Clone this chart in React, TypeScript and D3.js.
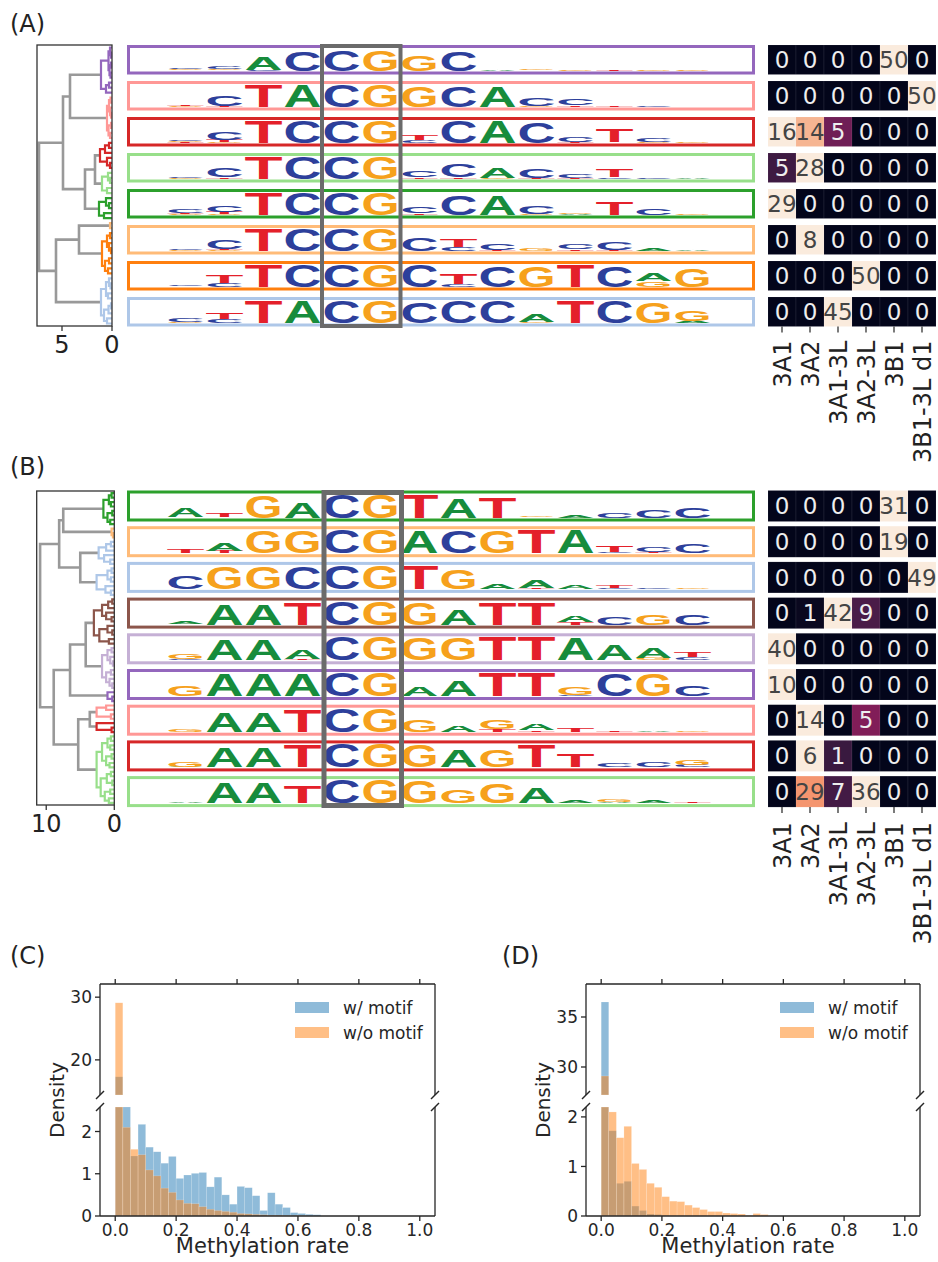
import React from 'react'
import * as d3 from 'd3'

const FONT = "'DejaVu Sans', sans-serif"
const LOGO_FONT = "'Liberation Sans', Arial, sans-serif"

// ---- heatmap data ----
const enzymes = ['3A1', '3A2', '3A1-3L', '3A2-3L', '3B1', '3B1-3L d1']
const countsA = [
  [0, 0, 0, 0, 50, 0],
  [0, 0, 0, 0, 0, 50],
  [16, 14, 5, 0, 0, 0],
  [5, 28, 0, 0, 0, 0],
  [29, 0, 0, 0, 0, 0],
  [0, 8, 0, 0, 0, 0],
  [0, 0, 0, 50, 0, 0],
  [0, 0, 45, 0, 0, 0],
]
const countsB = [
  [0, 0, 0, 0, 31, 0],
  [0, 0, 0, 0, 19, 0],
  [0, 0, 0, 0, 0, 49],
  [0, 1, 42, 9, 0, 0],
  [40, 0, 0, 0, 0, 0],
  [10, 0, 0, 0, 0, 0],
  [0, 14, 0, 5, 0, 0],
  [0, 6, 1, 0, 0, 0],
  [0, 29, 7, 36, 0, 0],
]

// cluster colours (row order)
const colorsA = ['#9467bd', '#ff9896', '#d62728', '#98df8a', '#2ca02c', '#ffbb78', '#ff7f0e', '#aec7e8']
const colorsB = ['#2ca02c', '#ffbb78', '#aec7e8', '#8c564b', '#c5b0d5', '#9467bd', '#ff9896', '#d62728', '#98df8a']

// ---- sequence logos: 14 positions, "letter+height" stacked bottom->top ----
const logoA = [
  'G.03 C.03 T.02|A.02 G.03 C.08|C.03 A.6|C.87|C.93|G.93|G.7|C.85|A.06|T.02 G.04|G.05|T.03|G.04|G.03',
  'G.03 T.04|T.04 C.45|T.95|A.95|C.95|G.95|G.93|C.93|A.93|G.04 C.35|T.06 C.3|T.05|C.04|A.02',
  'G.04 T.03 C.06|G.04 T.08 C.32|T.95|C.95|C.95|G.95|C.1 T.22|C.95|A.95|C.9|T.03 C.2|A.02 T.55|G.03 C.15|G.05',
  'G.03 C.06|T.05 C.38|T.95|C.95|C.95|G.95|T.05 C.3|T.05 C.6|G.03 A.45|T.04 C.4|T.03 C.18|C.05 T.32|C.06|A.05',
  'G.03 T.03 C.14|G.03 T.08 C.3|T.95|C.95|C.95|G.95|T.06 C.3|C.85|A.85|G.03 C.35|A.04 G.06|T.6|C.3|G.05',
  'G.03 C.03|G.03 T.04 C.4|T.95|C.95|C.95|G.95|C.6|C.15 T.33|T.03 C.28|G.08|T.06 C.25|T.03 C.35|A.1|A.05',
  'C.03 G.02|C.15 T.35|T.95|C.95|C.95|G.95|C.95|C.1 T.45|C.92|G.92|T.95|C.92|G.22 A.32|G.82',
  'G.04 C.14|C.15 T.28|T.95|A.95|C.95|G.95|C.92|C.95|C.95|G.03 A.35|T.95|C.95|G.9|A.08 G.45',
]
const logoB = [
  'G.02 A.38|A.02 T.18|G.9|A.62|C.95|G.95|T.95|A.82|T.85|G.03 T.02|A.08|C.22|C.32|C.45',
  'A.02 T.15|T.08 A.3|G.9|G.9|C.95|G.95|A.92|C.9|G.9|T.95|A.95|C.06 T.28|T.03 C.22|C.4',
  'C.55|G.9|G.9|C.9|C.95|G.95|T.95|G.82|A.2|T.05 A.32|A.14|C.03 T.1|C.05|G.03',
  'C.02 A.12|A.88|A.88|T.92|C.95|G.95|G.93|A.65|T.93|T.93|T.1 A.28|C.32|G.45|C.42',
  'C.05 G.2|A.88|A.88|T.05 A.35|C.95|G.95|G.92|G.9|T.95|T.95|A.9|A.62|G.1 A.45|C.12 T.22',
  'G.45|A.9|A.9|A.9|C.95|G.95|A.35|A.65|T.95|T.95|C.05 G.3|C.9|G.9|C.45',
  'G.1|A.8|A.8|T.9|C.95|G.95|G.5|A.28|T.1 G.4|T.05 A.25|T.15|T.03|A.03|G.03',
  'A.03 G.2|A.82|A.82|T.92|C.95|G.95|G.9|A.72|G.7|T.9|T.55|C.15|C.22|C.08 G.2',
  'A.05|A.88|A.88|T.72|C.95|G.95|G.9|G.55|G.8|A.65|A.1|A.05 G.08|A.08|T.03',
]
const letterColor: Record<string, string> = { A: '#178c3c', C: '#2d3f9b', G: '#f6a11c', T: '#e4202a' }

// ---- dendrograms ----
type Tree = { h: number; k: [Tree, Tree]; c?: number } | null
const o: Tree = null
const n = (h: number, a: Tree, b: Tree): Tree => ({ h, k: [a, b] })
const cl = (c: number, t: Tree): Tree => ({ ...(t as any), c })

const dendA = n(7.3,
  n(4.9,
    n(4.2,
      cl(0, n(1.1, n(0.35, n(0.2, o, n(0.1, o, o)), n(0.25, n(0.1, o, o), n(0.15, o, o))), n(0.6, n(0.3, o, o), o))),
      cl(1, n(0.5, n(0.3, n(0.15, o, o), n(0.2, o, n(0.1, o, o))), n(0.35, n(0.1, o, o), n(0.2, o, o))))),
    n(2.7,
      n(1.7,
        cl(2, n(1.2, n(0.7, n(0.3, o, o), o), n(0.5, o, n(0.2, o, o)))),
        cl(3, n(1.0, n(0.4, o, n(0.2, o, o)), n(0.5, o, o)))),
      cl(4, n(1.3, n(0.6, o, n(0.3, o, o)), n(0.8, o, o))))),
  n(5.6,
    n(3.3,
      cl(5, n(0.2, o, o)),
      cl(6, n(1.0, n(0.5, n(0.2, o, o), n(0.3, o, n(0.1, o, o))), n(0.7, n(0.3, o, o), n(0.4, o, o))))),
    cl(7, n(1.1, n(0.6, n(0.3, o, n(0.15, o, o)), n(0.4, o, o)), n(0.8, n(0.35, n(0.1, o, o), o), n(0.5, o, o))))))

const dendB = n(10.9,
  n(8.1,
    n(7.5,
      cl(0, n(1.6, n(0.8, n(0.4, o, o), n(0.5, o, o)), n(1.0, n(0.3, o, o), n(0.6, o, o)))),
      cl(1, n(0.4, o, n(0.2, o, o)))),
    n(5.0,
      cl(2, n(2.3, n(1.2, n(0.5, o, o), o), n(1.5, o, n(0.6, o, o)))),
      cl(2, n(2.6, n(1.0, n(0.4, o, o), n(0.5, o, o)), n(1.3, o, n(0.5, o, o)))))),
  n(8.9,
    n(6.5,
      n(4.2,
        cl(3, n(3.0, n(1.8, n(0.9, n(0.3, o, o), o), n(1.2, o, n(0.4, o, o))), n(2.2, n(1.0, o, n(0.3, o, o)), n(0.8, o, o)))),
        cl(4, n(1.8, n(1.0, n(0.4, o, o), n(0.6, o, n(0.2, o, o))), n(1.2, n(0.5, o, o), n(0.7, o, n(0.3, o, o)))))),
      cl(5, n(1.0, o, n(0.3, o, o)))),
    n(5.3,
      n(3.6,
        cl(6, n(2.6, n(1.2, o, o), n(0.5, o, o))),
        cl(7, n(2.6, o, n(0.4, o, o)))),
      cl(8, n(2.6, n(1.8, n(1.0, n(0.5, o, o), n(0.6, o, o)), n(1.2, n(0.4, o, o), n(0.7, o, o))), n(2.0, n(1.1, n(0.5, o, o), n(0.3, o, o)), n(1.4, n(0.6, o, o), n(0.8, o, o))))))))

// ---- histograms (bin width 0.025 on methylation rate) ----
const binWidth = 0.025
const cWith = [17.3, 2.6, 1.42, 2.17, 1.63, 1.52, 1.25, 1.41, 0.89, 0.97, 1.01, 1.03, 0.69, 0.92, 0.5, 0.28, 0.7, 0.67, 0.48, 0.13, 0.55, 0.28, 0.2, 0.08, 0.06, 0.04, 0.03]
const cWithout = [29.1, 2.1, 1.58, 1.45, 1.09, 0.95, 0.66, 0.56, 0.38, 0.3, 0.29, 0.22, 0.16, 0.13, 0.11, 0.09, 0.06, 0.05, 0.04, 0.03, 0.02, 0.02, 0.01, 0.01, 0.01]
const dWith = [36.5, 1.72, 0.66, 0.7, 0.2, 0.11, 0.04, 0.03, 0.01]
const dWithout = [29.1, 2.1, 1.58, 1.81, 1.06, 0.94, 0.66, 0.58, 0.39, 0.3, 0.29, 0.22, 0.17, 0.13, 0.09, 0.09, 0.06, 0.05, 0.04, 0.01, 0.05, 0.03]
const xTicks = [0, 0.2, 0.4, 0.6, 0.8, 1.0]
const lowerTicks = [0, 1, 2]

const rocket = d3.interpolateRgbBasis(['#03051a', '#221331', '#451c47', '#6a1f56', '#921c5b', '#b91657', '#dd2c45', '#f06043', '#f5936a', '#f6c19f', '#faebdd'])

function Dendro({ tree, vmax, x0, x1, y0, y1, colors, ticks }: any) {
  const x = d3.scaleLinear().domain([vmax, 0]).range([x0, x1])
  const count = (t: Tree): number => (t ? count(t.k[0]) + count(t.k[1]) : 1)
  const yl = d3.scaleLinear().domain([0, count(tree)]).range([y0, y1])
  let i = 0
  const links: { d: string; c?: number }[] = []
  const walk = (t: Tree, c?: number): { y: number; h: number } => {
    if (!t) { const y = yl(i + 0.5); i++; return { y, h: 0 } }
    const cc = t.c !== undefined ? t.c : c
    const a = walk(t.k[0], cc)
    const b = walk(t.k[1], cc)
    links.push({ d: `M${x(a.h)},${a.y}H${x(t.h)}V${b.y}H${x(b.h)}`, c: cc })
    return { y: (a.y + b.y) / 2, h: t.h }
  }
  walk(tree)
  return (
    <g>
      {links.filter(l => l.c === undefined).map((l, k) => (
        <path key={'g' + k} d={l.d} fill="none" stroke="#999" strokeWidth={2.6} />
      ))}
      {links.filter(l => l.c !== undefined).map((l, k) => (
        <path key={'c' + k} d={l.d} fill="none" stroke={colors[l.c!]} strokeWidth={2.2} />
      ))}
      <rect x={x0} y={y0} width={x1 - x0} height={y1 - y0} fill="none" stroke="#333" strokeWidth={1.3} />
      {ticks.map((t: number) => (
        <g key={t}>
          <line x1={x(t)} x2={x(t)} y1={y1} y2={y1 + 5} stroke="#333" strokeWidth={1.3} />
          <text x={x(t)} y={y1 + 27} fontSize={24} textAnchor="middle" fill="#222">{t}</text>
        </g>
      ))}
    </g>
  )
}

function Logos({ rows, colors, top, pitch, rowH }: any) {
  const col = d3.scaleBand<number>().domain(d3.range(14)).range([166, 712])
  return (
    <g>
      {rows.map((row: string, r: number) => {
        const y0 = top + r * pitch
        const base = y0 + rowH - 4
        const hs = d3.scaleLinear().domain([0, 1]).range([0, rowH - 6.5])
        return (
          <g key={r}>
            <rect x={128.5} y={y0 + 1.5} width={625} height={rowH - 3} fill="#fff" stroke={colors[r]} strokeWidth={3} />
            {row.split('|').map((cell, ci) => {
              let yb = base
              const toks = cell.split(' ').map(t => ({ l: t[0], v: +t.slice(1) })).sort((a, b) => a.v - b.v)
              return toks.map((t, ti) => {
                const h = hs(t.v)
                const el = (
                  <text key={ci + '-' + ti}
                    transform={`translate(${col(ci)! + 0.5},${yb}) scale(${(col.bandwidth() - 1) / 100},${h / 71.6})`}
                    fontSize={100} fontFamily={LOGO_FONT} fontWeight="bold" textLength={100}
                    lengthAdjust="spacingAndGlyphs" fill={letterColor[t.l]}>{t.l}</text>
                )
                yb -= h
                return el
              })
            })}
          </g>
        )
      })}
    </g>
  )
}

function Heat({ counts, top, pitch, rowH, labelGap }: any) {
  const x = d3.scaleBand<string>().domain(enzymes).range([768, 936])
  const bottom = top + (counts.length - 1) * pitch + rowH
  return (
    <g>
      {counts.map((row: number[], r: number) => {
        const mx = d3.max(row) || 1
        const y0 = top + r * pitch
        return row.map((v, c) => {
          const fill = rocket(v / mx)
          const light = d3.hsl(fill).l > 0.55
          return (
            <g key={r + '-' + c}>
              <rect x={x(enzymes[c])} y={y0} width={x.bandwidth()} height={rowH} fill={fill}
                stroke="rgba(255,255,255,0.12)" strokeWidth={0.6} />
              <text x={x(enzymes[c])! + x.bandwidth() / 2} y={y0 + rowH / 2} dy="0.36em" textAnchor="middle"
                fontSize={23} fill={light ? '#444' : '#eee'}>{v}</text>
            </g>
          )
        })
      })}
      {enzymes.map(e => {
        const cx = x(e)! + x.bandwidth() / 2
        return (
          <g key={e}>
            <line x1={cx} x2={cx} y1={bottom} y2={bottom + 6} stroke="#333" strokeWidth={1.3} />
            <text transform={`translate(${cx},${bottom + labelGap}) rotate(-90)`} textAnchor="end" dy="0.36em"
              fontSize={24} fill="#222">{e}</text>
          </g>
        )
      })}
    </g>
  )
}

function Hist({ x0, x1, uDom, lDom, uTicks, blue, orange, legendX }: any) {
  const x = d3.scaleLinear().domain([-0.05, 1.05]).range([x0, x1])
  const yU = d3.scaleLinear().domain(uDom).range([1095, 984])
  const yL = d3.scaleLinear().domain(lDom).range([1216, 1107])
  const bars = (vals: number[], color: string) => vals.map((v, k) => {
    const bx = x(k * binWidth), bw = x((k + 1) * binWidth) - bx
    const out = []
    if (v > 0) {
      const yt = yL(Math.min(v, lDom[1]))
      out.push(<rect key={'l' + k} x={bx} y={yt} width={bw} height={yL(0) - yt} fill={color} fillOpacity={0.5} stroke="#fff" strokeOpacity={0.35} strokeWidth={0.5} />)
    }
    if (v > uDom[0]) {
      const yt = yU(Math.min(v, uDom[1]))
      out.push(<rect key={'u' + k} x={bx} y={yt} width={bw} height={yU(uDom[0]) - yt} fill={color} fillOpacity={0.5} stroke="#fff" strokeOpacity={0.35} strokeWidth={0.5} />)
    }
    return out
  })
  const sp = { stroke: '#262626', strokeWidth: 1.3 }
  const brk = (bx: number, by: number) => <line x1={bx - 4} y1={by + 4} x2={bx + 4} y2={by - 4} stroke="#262626" strokeWidth={1.5} />
  return (
    <g fontSize={17} fill="#262626">
      {bars(blue, '#1f77b4')}
      {bars(orange, '#ff7f0e')}
      {/* upper axes spines */}
      <line x1={x0} x2={x1} y1={984} y2={984} {...sp} />
      <line x1={x0} x2={x0} y1={984} y2={1095} {...sp} />
      <line x1={x1} x2={x1} y1={984} y2={1095} {...sp} />
      {/* lower axes spines */}
      <line x1={x0} x2={x1} y1={1216} y2={1216} {...sp} />
      <line x1={x0} x2={x0} y1={1107} y2={1216} {...sp} />
      <line x1={x1} x2={x1} y1={1107} y2={1216} {...sp} />
      <g>{brk(x0, 1095)}{brk(x1, 1095)}{brk(x0, 1107)}{brk(x1, 1107)}</g>
      {xTicks.map(t => (
        <g key={t}>
          <line x1={x(t)} x2={x(t)} y1={984} y2={979} {...sp} />
          <line x1={x(t)} x2={x(t)} y1={1216} y2={1221} {...sp} />
          <text x={x(t)} y={1236} textAnchor="middle">{t.toFixed(1)}</text>
        </g>
      ))}
      {uTicks.map((t: number) => (
        <g key={'u' + t}>
          <line x1={x0} x2={x0 - 5} y1={yU(t)} y2={yU(t)} {...sp} />
          <text x={x0 - 8} y={yU(t)} dy="0.36em" textAnchor="end">{t}</text>
        </g>
      ))}
      {lowerTicks.map(t => (
        <g key={'l' + t}>
          <line x1={x0} x2={x0 - 5} y1={yL(t)} y2={yL(t)} {...sp} />
          <text x={x0 - 8} y={yL(t)} dy="0.36em" textAnchor="end">{t}</text>
        </g>
      ))}
      <text transform={`translate(${x0 - 36},1100) rotate(-90)`} textAnchor="middle" fontSize={20}>Density</text>
      <text x={(x0 + x1) / 2 - 5} y={1253} textAnchor="middle" fontSize={21}>Methylation rate</text>
      <rect x={legendX} y={1002} width={34} height={11} fill="#1f77b4" fillOpacity={0.5} />
      <rect x={legendX} y={1027} width={34} height={11} fill="#ff7f0e" fillOpacity={0.5} />
      <text x={legendX + 48} y={1008} dy="0.36em">w/ motif</text>
      <text x={legendX + 48} y={1033} dy="0.36em">w/o motif</text>
    </g>
  )
}

export default function App() {
  return (
    <svg width={938} height={1262} style={{ position: 'absolute', left: 0, top: 0, background: '#fff' }} fontFamily={FONT}>
      <rect width={938} height={1262} fill="#fff" />
      <text x={10} y={32} fontSize={24} fill="#222">(A)</text>
      <text x={10} y={475} fontSize={24} fill="#222">(B)</text>
      <text x={10} y={964} fontSize={24} fill="#222">(C)</text>
      <text x={502} y={964} fontSize={24} fill="#222">(D)</text>

      <Dendro tree={dendA} vmax={7.5} x0={37} x1={112} y0={45} y1={326} colors={colorsA} ticks={[5, 0]} />
      <Logos rows={logoA} colors={colorsA} top={45} pitch={36} rowH={29.5} />
      <rect x={322} y={46} width={78.5} height={280} fill="none" stroke="#6b6b6b" strokeWidth={4} />
      <Heat counts={countsA} top={45} pitch={36} rowH={29.5} labelGap={14} />

      <Dendro tree={dendB} vmax={11.4} x0={36.7} x1={114.3} y0={491} y1={805} colors={colorsB} ticks={[10, 0]} />
      <Logos rows={logoB} colors={colorsB} top={490.5} pitch={35.7} rowH={31} />
      <rect x={324} y={492.5} width={77.5} height={313} fill="none" stroke="#6b6b6b" strokeWidth={5} />
      <Heat counts={countsB} top={490.5} pitch={35.7} rowH={31} labelGap={15} />

      <Hist x0={100} x1={435} uDom={[14.4, 32.1]} lDom={[0, 2.58]} uTicks={[20, 30]} blue={cWith} orange={cWithout} legendX={295} />
      <Hist x0={586} x1={920} uDom={[27.2, 38.3]} lDom={[0, 2.2]} uTicks={[30, 35]} blue={dWith} orange={dWithout} legendX={780} />
    </svg>
  )
}
